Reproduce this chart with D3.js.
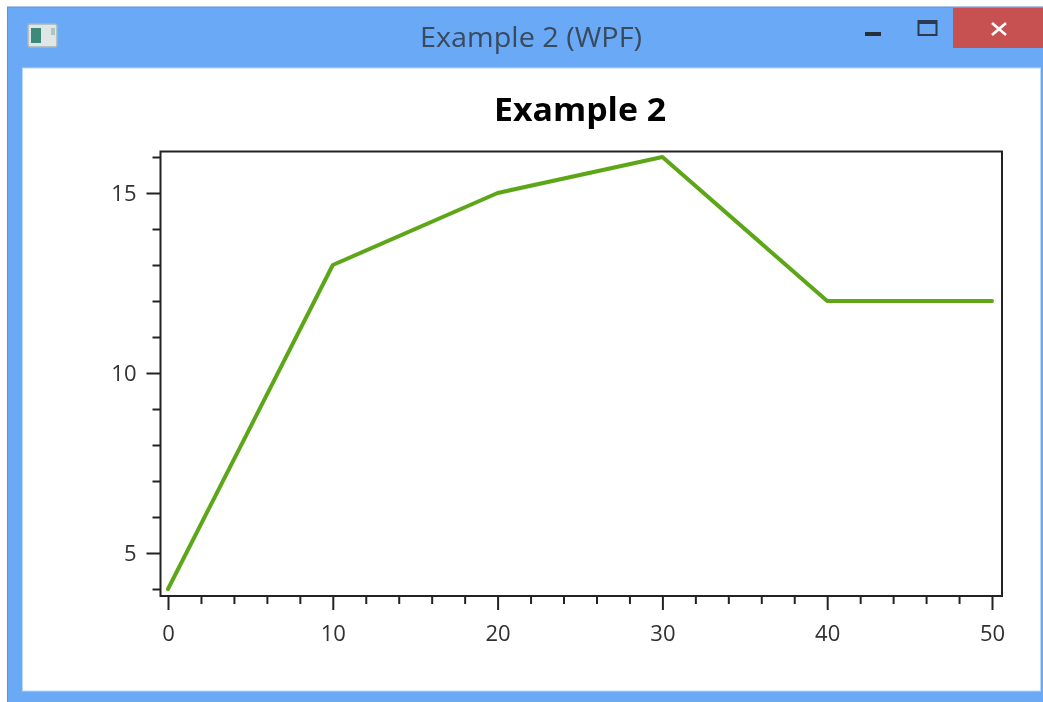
<!DOCTYPE html>
<html><head><meta charset="utf-8">
<script src="https://cdn.jsdelivr.net/npm/d3@7"></script>
<style>html,body{margin:0;padding:0;background:#fff;overflow:hidden}svg{display:block;filter:blur(0.5px)}
text{font-family:"Open Sans","Noto Sans",sans-serif}</style></head>
<body><svg id="c" width="1043" height="702"></svg>
<script>
const xValues=[0,10,20,30,40,50];
const yValues=[4,13,15,16,12,12];
const xMajor=[0,10,20,30,40,50];
const xMinor=[2,4,6,8,12,14,16,18,22,24,26,28,32,34,36,38,42,44,46,48];
const yMajor=[5,10,15];
const yMinor=[4,6,7,8,9,11,12,13,14,16];
const chartTitle="Example 2";
const windowTitle="Example 2 (WPF)";

const svg=d3.select("#c");
const x=d3.scaleLinear().domain([0,50]).range([168,992]);
const y=d3.scaleLinear().domain([5,15]).range([553,193]);
const L=160.5,R=1002,T=151.5,B=596;
// window chrome
svg.append("rect").attr("x",7.5).attr("y",7).attr("width",1040).attr("height",700).attr("fill","#69a9f6").attr("stroke","#5b92d6");
svg.append("rect").attr("x",22.5).attr("y",68).attr("width",1018).attr("height",623).attr("fill","#fff").attr("stroke","#bcd6f5");
svg.append("rect").attr("x",953).attr("y",8).attr("width",90).attr("height",40).attr("fill","#c75050");
const cl=svg.append("g").attr("stroke","#fff").attr("stroke-width",2.6);
cl.append("line").attr("x1",992).attr("y1",23).attr("x2",1006).attr("y2",35);
cl.append("line").attr("x1",1006).attr("y1",23).attr("x2",992).attr("y2",35);
svg.append("rect").attr("x",865).attr("y",32).attr("width",16).attr("height",4).attr("fill","#262e3a");
svg.append("rect").attr("x",918.5).attr("y",21).attr("width",18).attr("height",14).attr("fill","none").attr("stroke","#2b3a50").attr("stroke-width",2);
svg.append("rect").attr("x",918).attr("y",20).attr("width",19).attr("height",4).attr("fill","#2b3a50");
svg.append("rect").attr("x",28).attr("y",24).attr("width",29).attr("height",23).attr("rx",2).attr("fill","#dfe6e6").attr("stroke","#a9b4bc").attr("stroke-width",1.5);
svg.append("rect").attr("x",31).attr("y",28).attr("width",10).attr("height",15).attr("fill","#3d8a7a");
svg.append("rect").attr("x",51).attr("y",28).attr("width",4).attr("height",7).attr("fill","#a8c8c0");
svg.append("text").attr("x",531).attr("y",47).attr("text-anchor","middle").attr("font-size",28).attr("textLength",222).attr("lengthAdjust","spacingAndGlyphs").attr("fill","#3a4a5e").text(windowTitle);
svg.append("text").attr("x",580).attr("y",121).attr("text-anchor","middle").attr("font-size",33).attr("textLength",172).attr("lengthAdjust","spacingAndGlyphs").attr("font-weight",700).attr("fill","#000").text(chartTitle);

// axes via d3 axis
const ink="#222";
function styleAxis(g){g.select(".domain").remove();g.selectAll("line").attr("stroke",ink).attr("stroke-width",2);
  g.selectAll("text").attr("font-size",22).attr("font-family",'"Open Sans","Noto Sans",sans-serif').attr("fill","#303030");}
svg.append("g").attr("transform",`translate(0,${B})`).call(d3.axisBottom(x).tickValues(xMajor).tickSize(14).tickPadding(15).tickFormat(d3.format("d"))).call(styleAxis);
svg.append("g").attr("transform",`translate(0,${B})`).call(d3.axisBottom(x).tickValues(xMinor).tickSize(8).tickFormat("")).call(styleAxis);
svg.append("g").attr("transform",`translate(${L},0)`).call(d3.axisLeft(y).tickValues(yMajor).tickSize(14).tickPadding(10).tickFormat(d3.format("d"))).call(styleAxis);
svg.append("g").attr("transform",`translate(${L},0)`).call(d3.axisLeft(y).tickValues(yMinor).tickSize(8).tickFormat("")).call(styleAxis);
svg.append("rect").attr("x",L).attr("y",T).attr("width",R-L).attr("height",B-T).attr("fill","none").attr("stroke",ink).attr("stroke-width",2);

const line=d3.line().x((d,i)=>x(xValues[i])).y(d=>y(d));
svg.append("path").datum(yValues).attr("d",line).attr("fill","none").attr("stroke","#5da618").attr("stroke-width",4).attr("stroke-linejoin","round").attr("stroke-linecap","round");
</script></body></html>
